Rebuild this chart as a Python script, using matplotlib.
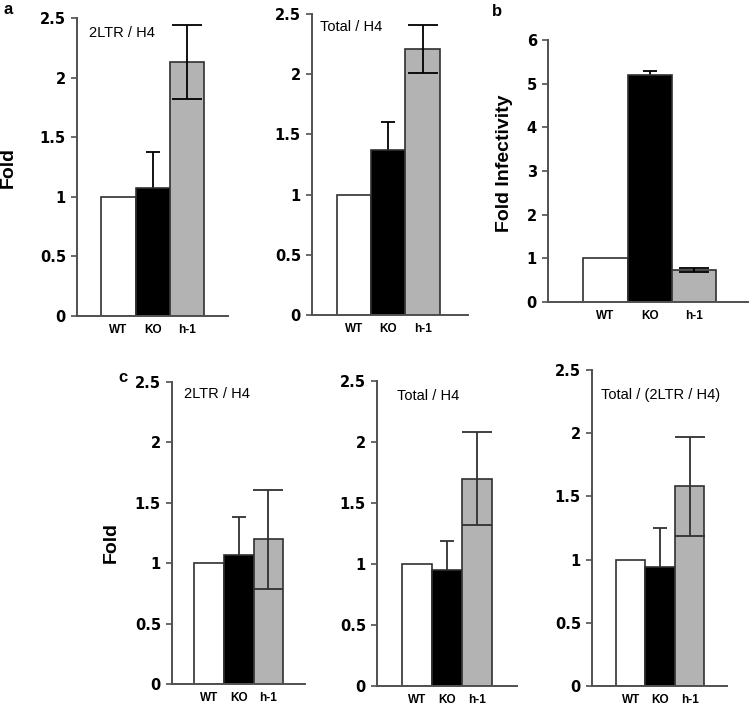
import matplotlib
matplotlib.use('Agg')
import matplotlib.pyplot as plt

# data
categories = ['WT', 'KO', 'h-1']

a_2ltr = [1.0, 1.07, 2.13]
a_2ltr_err = [0, 0.31, 0.31]
a_total = [1.0, 1.37, 2.21]
a_total_err = [0, 0.23, 0.20]

b_infect = [1.0, 5.20, 0.73]
b_infect_err = [0, 0.10, 0.045]

c_2ltr = [1.0, 1.07, 1.20]
c_2ltr_err = [0, 0.31, 0.41]
c_total = [1.0, 0.95, 1.70]
c_total_err = [0, 0.24, 0.38]
c_ratio = [1.0, 0.94, 1.58]
c_ratio_err = [0, 0.31, 0.39]

fold_ticks = [0, 0.5, 1, 1.5, 2, 2.5]
fold_ticklabels = ['0', '0.5', '1', '1.5', '2', '2.5']
infect_ticks = [0, 1, 2, 3, 4, 5, 6]
infect_ticklabels = ['0', '1', '2', '3', '4', '5', '6']

W, H = 750, 710
bar_colors = ['white', 'black', '#b3b3b3']
cap_pt = [0, 5, 11]
# the KO whisker sits behind its black bar, so only the upper half shows
err_z = [1, 1, 3]
axis_grey = '#505050'


def rect(left, right, top, bottom):
    # pixel box -> figure fraction
    return [left / W, 1 - bottom / H, (right - left) / W, (bottom - top) / H]


def panel(fig, box, xlim, vals, errs, ticks, ticklabels, title=None,
          title_xy=(0.08, 0.95), ylabel=None, ylabel_xy=(-0.4, 0.5),
          err_color='black'):
    ax = fig.add_axes(box)
    x = range(len(categories))
    ax.bar(x, vals, width=1.0, color=bar_colors, edgecolor='#303030',
           linewidth=1.2, zorder=2)
    for i in x:
        if errs[i] > 0:
            ax.errorbar(i, vals[i], yerr=errs[i], fmt='none',
                        ecolor=err_color, elinewidth=1.3,
                        capsize=cap_pt[i], capthick=1.3, zorder=err_z[i])
    ax.set_xlim(*xlim)
    ax.set_ylim(ticks[0], ticks[-1])
    ax.set_yticks(ticks)
    ax.set_yticklabels(ticklabels, fontfamily='DejaVu Sans',
                       fontweight='bold', fontsize=10.5)
    ax.set_xticks(list(x))
    ax.set_xticklabels(categories, fontfamily='Liberation Sans',
                       fontweight='bold', fontsize=8.5)
    ax.tick_params(axis='x', length=0, pad=6)
    ax.tick_params(axis='y', length=4, width=1.2, color=axis_grey, pad=4)
    for s in ['top', 'right']:
        ax.spines[s].set_visible(False)
    for s in ['left', 'bottom']:
        ax.spines[s].set_color(axis_grey)
        ax.spines[s].set_linewidth(1.4)
    ax.patch.set_alpha(0)
    if title:
        ax.text(title_xy[0], title_xy[1], title, transform=ax.transAxes,
                fontfamily='Liberation Sans', fontsize=10.5, va='center',
                ha='left')
    if ylabel:
        ax.set_ylabel(ylabel, fontfamily='Liberation Sans',
                      fontweight='bold', fontsize=14)
        ax.yaxis.set_label_coords(*ylabel_xy)
    return ax


fig = plt.figure(figsize=(7.5, 7.1), dpi=100)

panel(fig, rect(77, 228, 18, 316), (-1.21, 3.19), a_2ltr, a_2ltr_err,
      fold_ticks, fold_ticklabels, '2LTR / H4', (0.08, 0.95),
      'Fold', (-0.40, 0.5))
panel(fig, rect(312, 468, 14, 315), (-1.22, 3.32), a_total, a_total_err,
      fold_ticks, fold_ticklabels, 'Total / H4', (0.05, 0.957))
panel(fig, rect(548, 748, 40, 302), (-1.30, 3.22), b_infect, b_infect_err,
      infect_ticks, infect_ticklabels, ylabel='Fold Infectivity',
      ylabel_xy=(-0.175, 0.53))

panel(fig, rect(172, 305, 382, 684), (-1.25, 3.23), c_2ltr, c_2ltr_err,
      fold_ticks, fold_ticklabels, '2LTR / H4', (0.09, 0.96),
      'Fold', (-0.39, 0.47), err_color='#303030')
panel(fig, rect(377, 517, 381, 686), (-1.33, 3.33), c_total, c_total_err,
      fold_ticks, fold_ticklabels, 'Total / H4', (0.14, 0.95),
      err_color='#303030')
panel(fig, rect(592, 727, 370, 686), (-1.31, 3.27), c_ratio, c_ratio_err,
      fold_ticks, fold_ticklabels, 'Total / (2LTR / H4)', (0.07, 0.92),
      err_color='#303030')

for letter, px, py in [('a', 3, 10), ('b', 492, 12), ('c', 118, 378)]:
    fig.text(px / W, 1 - py / H, letter, fontfamily='Liberation Sans',
             fontweight='bold', fontsize=12, va='center', ha='left')

fig.savefig('out.png', dpi=100)
